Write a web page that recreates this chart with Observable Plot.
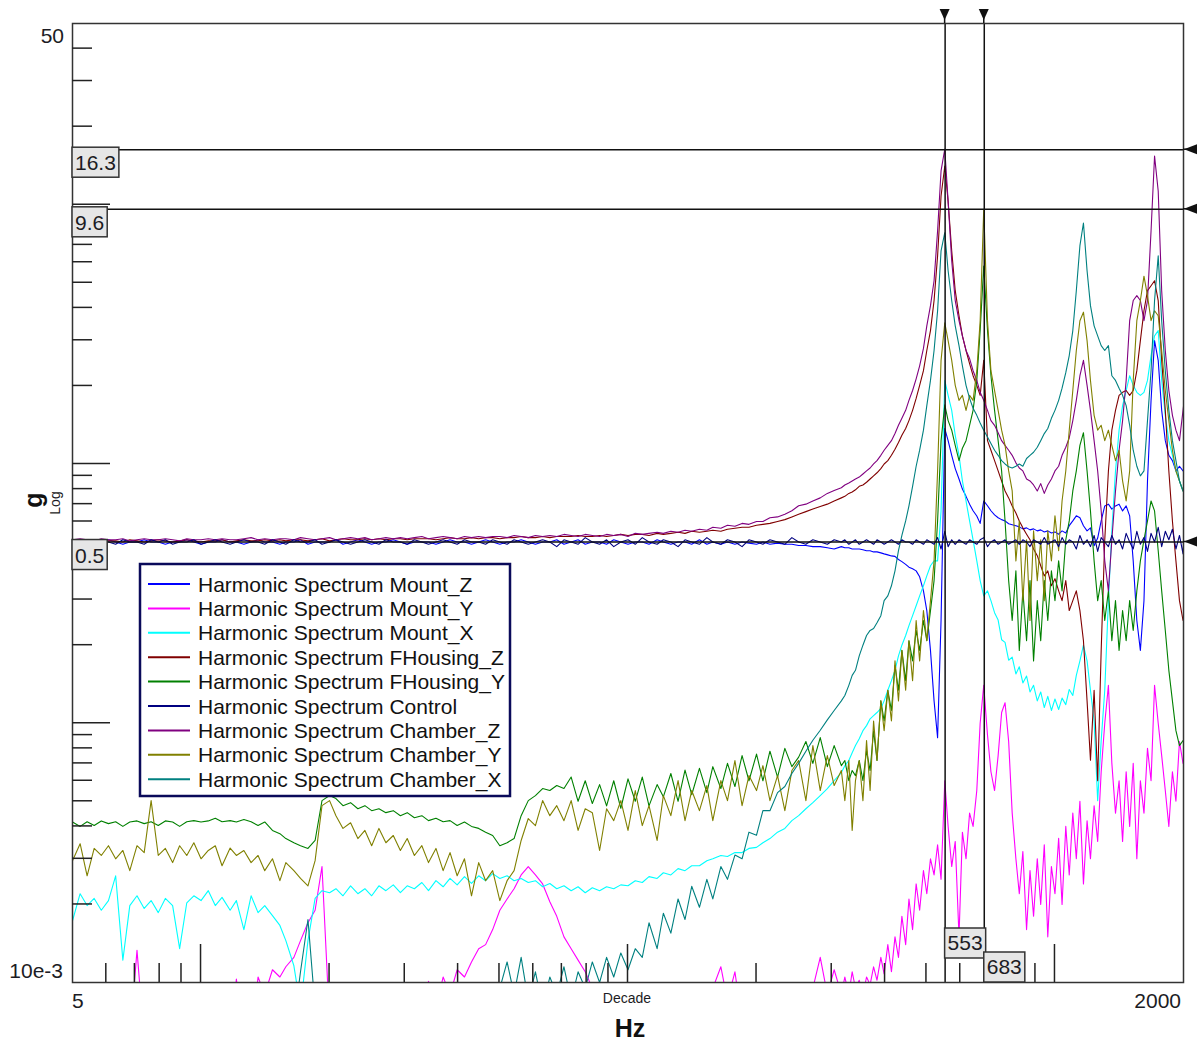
<!DOCTYPE html>
<html><head><meta charset="utf-8">
<script src="https://cdn.jsdelivr.net/npm/d3@7"></script>
<script src="https://cdn.jsdelivr.net/npm/@observablehq/plot@0.6"></script>
<style>html,body{margin:0;padding:0;background:#fff;} #chart{width:1201px;height:1041px;}</style>
</head><body><div id="chart"></div>
<script>
// ---------- frequency grid (Hz) ----------
const hzLow = [
5.0,5.21,5.41,5.62,5.84,6.07,6.31,6.56,6.81,7.08,
7.36,7.64,7.94,8.25,8.58,8.91,9.26,9.62,10,10.4,
10.8,11.2,11.7,12.1,12.6,13.1,13.6,14.1,14.7,15.3,
15.8,16.5,17.1,17.8,18.5,19.2,20,20.7,21.5,22.4,
23.3,24.2,25.1,26.1,27.1,28.2,29.3,30.4,31.6,32.9,
34.1,35.5,36.9,38.3,39.8,41.4,43,44.7,46.4,48.2,
50.1,52.1,54.1,56.2,58.4,60.7,63.1,65.6,68.1,70.8,
73.6,76.4,79.4,82.5,85.8,89.1,92.6,96.2,100,104,
108,112,117,121,126,131,136,141,147,153,
158,165,171,178,185,192,200,207,215,224,
233,242,251,261,271,282,293,304];
const hzHigh = [
316,322,329,335,341,348,355,362,369,376,
383,391,398,406,414,422,430,438,447,455,
464,473,482,492,501,511,521,531,541,552,
562,573,584,596,607,619,631,643,656,668,
681,695,708,722,736,750,764,779,794,810,
825,841,858,874,891,909,926,944,962,981,
1000,1020,1039,1060,1080,1101,1122,1144,1166,1189,
1211,1235,1259,1283,1308,1334,1359,1386,1413,1440,
1468,1496,1525,1555,1585,1616,1647,1679,1711,1745,
1778,1813,1848,1884,1920,1957,1995,2000];

// ---------- series values (g), on hzLow then hzHigh ----------
const mountZ = [
0.50,0.50,0.49,0.50,0.50,0.51,0.50,0.49,0.50,0.50,
0.51,0.50,0.50,0.49,0.50,0.50,0.51,0.50,0.49,0.50,
0.50,0.51,0.50,0.50,0.49,0.50,0.51,0.50,0.50,0.49,
0.50,0.50,0.51,0.49,0.50,0.50,0.50,0.51,0.49,0.50,
0.51,0.50,0.49,0.50,0.50,0.51,0.50,0.49,0.50,0.50,
0.50,0.49,0.50,0.51,0.50,0.50,0.49,0.50,0.51,0.50,
0.49,0.50,0.50,0.51,0.50,0.49,0.50,0.50,0.51,0.49,
0.50,0.51,0.49,0.50,0.50,0.49,0.51,0.50,0.49,0.50,
0.50,0.49,0.51,0.50,0.49,0.50,0.50,0.49,0.51,0.49,
0.50,0.49,0.50,0.49,0.50,0.495,0.49,0.50,0.49,0.495,
0.49,0.49,0.485,0.485,0.48,0.48,0.475,0.47,
// high
0.48,0.475,0.475,0.47,0.47,0.47,0.467,0.463,0.463,0.458,
0.458,0.454,0.45,0.446,0.442,0.44,0.428,0.42,0.41,0.40,
0.394,0.387,0.367,0.324,0.272,0.191,0.122,0.088,0.249,1.37,
1.23,1.08,0.96,0.875,0.80,0.75,0.70,0.66,0.63,0.59,
0.72,0.69,0.66,0.636,0.62,0.61,0.603,0.588,0.583,0.578,
0.572,0.562,0.567,0.557,0.562,0.552,0.557,0.547,0.552,0.542,
0.547,0.536,0.552,0.542,0.578,0.603,0.631,0.62,0.578,0.552,
0.567,0.484,0.518,0.603,0.689,0.70,0.67,0.689,0.70,0.659,
0.689,0.631,0.423,0.249,0.191,0.297,0.86,1.76,2.99,2.51,
1.61,1.23,1.08,1.03,0.94,0.98,0.94,0.94];

const mountY = [
0.006,0.006,0.006,0.006,0.006,0.006,0.006,0.006,0.006,0.0133,
0.006,0.006,0.006,0.006,0.006,0.006,0.006,0.006,0.006,0.006,
0.006,0.006,0.006,0.0103,0.006,0.006,0.0105,0.009,0.0112,0.0105,
0.0115,0.0125,0.0145,0.017,0.019,0.028,0.007,0.006,0.006,0.006,
0.006,0.006,0.006,0.006,0.006,0.006,0.006,0.006,0.006,0.006,
0.0101,0.008,0.0105,0.009,0.0112,0.0105,0.012,0.0135,0.014,0.016,
0.019,0.021,0.023,0.026,0.028,0.026,0.024,0.0205,0.018,0.015,
0.0135,0.0122,0.011,0.0095,0.007,0.006,0.006,0.006,0.006,0.006,
0.006,0.006,0.006,0.006,0.006,0.006,0.006,0.006,0.006,0.006,
0.0095,0.0115,0.0085,0.011,0.007,0.006,0.006,0.006,0.006,0.006,
0.006,0.006,0.006,0.006,0.0095,0.0125,0.009,0.0112,
// high
0.009,0.0105,0.009,0.011,0.0095,0.0102,0.009,0.0105,0.0098,0.0115,
0.0102,0.0125,0.0108,0.014,0.011,0.015,0.0125,0.018,0.014,0.021,
0.016,0.024,0.019,0.027,0.022,0.030,0.026,0.034,0.025,0.060,
0.040,0.028,0.035,0.015,0.038,0.030,0.045,0.040,0.055,0.10,
0.14,0.090,0.065,0.055,0.075,0.11,0.12,0.085,0.045,0.030,
0.022,0.032,0.016,0.027,0.018,0.030,0.020,0.034,0.015,0.028,
0.022,0.036,0.020,0.040,0.026,0.045,0.030,0.050,0.024,0.042,
0.030,0.048,0.035,0.065,0.10,0.14,0.07,0.045,0.060,0.035,
0.065,0.040,0.070,0.030,0.060,0.045,0.080,0.060,0.14,0.10,
0.075,0.055,0.040,0.065,0.050,0.085,0.070,0.070];

const mountX = [
0.0173,0.022,0.0198,0.0211,0.019,0.0207,0.0258,0.0122,0.0198,0.0216,
0.0193,0.0207,0.0186,0.0211,0.0198,0.0135,0.0203,0.0216,0.0207,0.0226,
0.0198,0.0213,0.019,0.0207,0.016,0.0216,0.0186,0.0198,0.0181,0.0166,
0.0145,0.0116,0.008,0.0145,0.0211,0.0226,0.0222,0.023,0.0216,0.0236,
0.022,0.023,0.0216,0.0236,0.0226,0.0238,0.0222,0.0236,0.023,0.0243,
0.0226,0.0247,0.0234,0.0252,0.0238,0.0256,0.0241,0.0258,0.0247,0.0263,
0.0252,0.0258,0.0247,0.0252,0.0243,0.0247,0.0234,0.0241,0.023,0.0236,
0.0226,0.0234,0.0222,0.0232,0.0226,0.0234,0.023,0.0238,0.0236,0.0247,
0.0243,0.0256,0.0252,0.0265,0.026,0.0275,0.027,0.0282,0.0282,0.0295,
0.030,0.0309,0.0306,0.0317,0.0317,0.0329,0.0332,0.0346,0.0359,0.038,
0.0393,0.0421,0.044,0.0468,0.0494,0.0526,0.056,0.0601,
// high
0.0645,0.0686,0.0718,0.077,0.082,0.0872,0.0936,0.0979,0.104,0.107,
0.11,0.114,0.122,0.134,0.146,0.16,0.182,0.20,0.218,0.238,
0.26,0.284,0.31,0.339,0.37,0.405,0.423,0.423,0.659,2.10,
1.84,1.61,1.29,1.08,0.86,0.72,0.603,0.51,0.423,0.355,
0.31,0.324,0.297,0.267,0.25,0.21,0.205,0.175,0.18,0.155,
0.165,0.143,0.152,0.132,0.14,0.122,0.132,0.115,0.127,0.112,
0.124,0.113,0.125,0.118,0.135,0.128,0.153,0.174,0.20,0.174,
0.134,0.102,0.0503,0.0857,0.134,0.297,0.552,0.94,1.35,1.68,
1.92,2.19,2.01,1.89,1.84,1.89,2.10,2.62,3.12,3.27,
2.10,1.54,1.23,1.08,0.94,0.86,0.787,0.787];

const fhousingZ = [
0.505,0.50,0.505,0.51,0.50,0.505,0.505,0.50,0.51,0.505,
0.50,0.505,0.51,0.505,0.50,0.505,0.51,0.505,0.50,0.505,
0.505,0.51,0.50,0.505,0.51,0.505,0.505,0.51,0.505,0.51,
0.505,0.51,0.51,0.505,0.51,0.515,0.505,0.51,0.515,0.51,
0.51,0.515,0.51,0.515,0.51,0.515,0.515,0.51,0.515,0.515,
0.515,0.51,0.515,0.52,0.515,0.515,0.52,0.515,0.52,0.52,
0.515,0.52,0.52,0.525,0.52,0.52,0.525,0.52,0.525,0.525,
0.525,0.53,0.525,0.525,0.53,0.525,0.53,0.535,0.53,0.535,
0.535,0.53,0.54,0.535,0.54,0.545,0.54,0.55,0.545,0.55,
0.555,0.55,0.56,0.565,0.57,0.57,0.58,0.585,0.59,0.60,
0.61,0.625,0.64,0.655,0.67,0.685,0.70,0.72,
// high
0.74,0.75,0.77,0.78,0.795,0.82,0.83,0.85,0.875,0.90,
0.925,0.96,1.0,1.03,1.08,1.14,1.21,1.29,1.37,1.47,
1.61,1.79,2.01,2.29,2.74,3.27,4.27,6.35,10.8,14.1,
10.3,6.64,4.66,3.73,3.12,2.74,2.44,2.19,2.01,1.84,
2.51,1.23,1.13,1.03,0.94,0.86,0.787,0.74,0.689,0.647,
0.603,0.567,0.536,0.51,0.47,0.443,0.405,0.37,0.387,0.339,
0.361,0.324,0.297,0.355,0.272,0.297,0.324,0.272,0.208,0.122,
0.072,0.134,0.060,0.191,0.51,0.94,1.35,1.61,1.84,1.89,
1.92,1.84,1.92,2.29,2.99,3.90,4.66,4.87,5.09,4.27,
2.51,1.61,0.94,0.603,0.423,0.297,0.249,0.249];

const fhousingY = [
0.0416,0.040,0.0417,0.0403,0.042,0.041,0.0417,0.040,0.0416,0.042,
0.041,0.0417,0.0403,0.042,0.0416,0.040,0.0417,0.0421,0.0416,0.042,
0.043,0.0417,0.0421,0.0416,0.0425,0.0417,0.0403,0.0416,0.0386,0.0375,
0.0359,0.0346,0.0337,0.0329,0.0353,0.0503,0.0526,0.0512,0.0481,0.0494,
0.0468,0.0481,0.046,0.0468,0.0452,0.046,0.044,0.0452,0.0432,0.044,
0.0421,0.043,0.0417,0.0421,0.0403,0.0416,0.040,0.0393,0.038,0.0369,
0.0337,0.0346,0.0359,0.044,0.0503,0.0526,0.056,0.055,0.0575,0.056,
0.062,0.050,0.060,0.049,0.058,0.048,0.060,0.047,0.061,0.050,
0.062,0.048,0.058,0.052,0.064,0.050,0.066,0.053,0.067,0.054,
0.068,0.056,0.070,0.057,0.075,0.060,0.076,0.060,0.078,0.062,
0.080,0.068,0.074,0.085,0.070,0.088,0.068,0.082,
// high
0.0686,0.0718,0.0601,0.0657,0.0628,0.0718,0.0601,0.0784,0.0657,0.0936,
0.0718,0.122,0.102,0.134,0.112,0.167,0.134,0.191,0.146,0.208,
0.174,0.228,0.191,0.249,0.208,0.272,0.355,0.603,1.23,1.69,
1.47,1.35,1.18,1.03,1.15,1.23,1.41,1.61,2.10,3.27,
5.8,3.27,2.19,1.61,1.23,0.94,0.603,0.355,0.249,0.387,
0.191,0.324,0.208,0.355,0.174,0.297,0.208,0.355,0.249,0.387,
0.297,0.423,0.324,0.51,0.603,0.787,0.94,1.18,1.32,0.94,
0.659,0.423,0.297,0.355,0.249,0.324,0.208,0.297,0.191,0.272,
0.208,0.297,0.228,0.324,0.423,0.51,0.603,0.72,0.659,0.463,
0.324,0.228,0.16,0.122,0.0936,0.082,0.0857,0.0857];

const control = [
0.50,0.51,0.49,0.50,0.51,0.50,0.49,0.51,0.50,0.50,
0.49,0.51,0.50,0.51,0.49,0.50,0.50,0.51,0.49,0.50,
0.51,0.50,0.49,0.50,0.51,0.50,0.50,0.49,0.51,0.50,
0.49,0.51,0.50,0.50,0.51,0.49,0.50,0.51,0.50,0.49,
0.50,0.51,0.50,0.49,0.51,0.50,0.50,0.49,0.51,0.50,
0.49,0.50,0.51,0.50,0.49,0.51,0.50,0.50,0.49,0.51,
0.50,0.49,0.51,0.50,0.49,0.50,0.51,0.50,0.48,0.51,
0.50,0.49,0.52,0.50,0.49,0.51,0.48,0.50,0.51,0.49,
0.52,0.50,0.49,0.51,0.50,0.48,0.51,0.50,0.49,0.52,
0.50,0.49,0.51,0.50,0.48,0.51,0.50,0.49,0.51,0.50,
0.49,0.52,0.50,0.49,0.51,0.50,0.49,0.51,
// high
0.50,0.51,0.49,0.50,0.51,0.49,0.50,0.51,0.50,0.49,
0.51,0.50,0.49,0.50,0.51,0.50,0.49,0.51,0.50,0.50,
0.49,0.51,0.50,0.49,0.51,0.50,0.49,0.52,0.47,0.55,
0.48,0.51,0.49,0.51,0.50,0.49,0.51,0.50,0.49,0.51,
0.52,0.48,0.50,0.51,0.49,0.50,0.51,0.49,0.50,0.51,
0.49,0.51,0.50,0.48,0.51,0.50,0.49,0.52,0.49,0.50,
0.51,0.48,0.52,0.49,0.51,0.50,0.47,0.53,0.49,0.51,
0.48,0.53,0.46,0.52,0.50,0.48,0.53,0.49,0.51,0.47,
0.54,0.50,0.47,0.55,0.49,0.52,0.46,0.54,0.50,0.57,
0.48,0.55,0.51,0.56,0.47,0.53,0.45,0.50];

const chamberZ = [
0.51,0.515,0.51,0.505,0.515,0.51,0.51,0.515,0.505,0.51,
0.515,0.51,0.51,0.515,0.51,0.505,0.515,0.51,0.51,0.515,
0.51,0.515,0.51,0.51,0.515,0.52,0.51,0.515,0.51,0.515,
0.515,0.51,0.52,0.515,0.51,0.515,0.52,0.51,0.515,0.52,
0.515,0.52,0.51,0.515,0.52,0.515,0.52,0.515,0.52,0.525,
0.515,0.52,0.525,0.52,0.515,0.525,0.52,0.525,0.52,0.525,
0.525,0.52,0.53,0.525,0.52,0.53,0.525,0.53,0.525,0.535,
0.53,0.525,0.535,0.53,0.525,0.535,0.53,0.535,0.525,0.54,
0.535,0.54,0.545,0.54,0.55,0.545,0.555,0.55,0.56,0.555,
0.57,0.565,0.58,0.575,0.59,0.585,0.60,0.60,0.62,0.625,
0.64,0.66,0.69,0.70,0.72,0.74,0.77,0.79,
// high
0.81,0.83,0.845,0.86,0.875,0.89,0.915,0.94,0.965,1.0,
1.03,1.08,1.13,1.18,1.23,1.31,1.41,1.50,1.61,1.76,
1.92,2.13,2.39,2.79,3.41,4.08,5.09,7.93,13.5,16.4,
10.3,6.08,4.27,3.57,3.12,2.74,2.55,2.29,2.10,1.89,
1.76,1.61,1.47,1.41,1.32,1.23,1.18,1.13,1.08,1.01,
0.965,0.94,0.875,0.86,0.83,0.787,0.84,0.77,0.83,0.875,
0.94,0.98,1.08,1.16,1.26,1.47,1.76,2.19,2.51,2.01,
1.61,1.23,0.94,0.66,0.423,0.324,0.51,0.787,1.13,1.47,
2.10,3.57,4.27,4.46,4.27,3.57,4.27,7.93,15.4,11.3,
4.66,2.74,1.92,1.54,1.35,1.23,1.61,1.67];

const chamberY = [
0.0295,0.0343,0.0258,0.0329,0.0309,0.0337,0.030,0.0323,0.027,0.0337,
0.0317,0.0503,0.0309,0.0329,0.029,0.0337,0.0309,0.0346,0.030,0.0323,
0.0337,0.0282,0.033,0.0309,0.0323,0.029,0.0309,0.027,0.030,0.0247,
0.029,0.027,0.0252,0.0236,0.0295,0.0481,0.0503,0.044,0.0393,0.0413,
0.0359,0.0386,0.0337,0.0393,0.0346,0.0369,0.0323,0.0359,0.0309,0.0337,
0.029,0.0329,0.027,0.0317,0.0258,0.030,0.0216,0.029,0.0247,0.027,
0.0207,0.0247,0.027,0.0353,0.0429,0.0403,0.0503,0.044,0.0481,0.0421,
0.0503,0.0386,0.0468,0.0452,0.0323,0.0468,0.0421,0.0503,0.0386,0.055,
0.0403,0.0481,0.0353,0.0526,0.044,0.0601,0.0421,0.055,0.046,0.0575,
0.0421,0.0601,0.0503,0.0718,0.0481,0.0628,0.055,0.0686,0.0503,0.0628,
0.046,0.0657,0.0718,0.0503,0.082,0.055,0.075,0.0575,
// high
0.0657,0.0503,0.0718,0.0386,0.0601,0.0718,0.0503,0.0857,0.055,0.102,
0.0718,0.122,0.0936,0.134,0.102,0.174,0.122,0.191,0.134,0.208,
0.146,0.249,0.174,0.272,0.208,0.297,0.423,0.94,2.51,3.5,
2.99,2.51,2.01,1.76,1.84,1.61,1.84,1.76,2.29,3.57,
9.6,3.57,2.29,1.92,1.61,1.35,1.18,0.94,0.787,0.423,
0.603,0.297,0.51,0.249,0.552,0.355,0.51,0.297,0.552,0.423,
0.631,0.463,0.72,0.94,1.35,1.92,2.74,3.57,3.85,2.99,
2.10,1.54,1.35,1.41,1.23,1.35,1.18,1.03,1.13,0.86,
0.72,0.94,2.10,3.57,4.27,5.3,4.46,3.57,3.90,3.73,
2.74,1.92,1.47,1.13,0.94,0.86,0.787,0.787];

const chamberX = [
0.006,0.006,0.006,0.006,0.006,0.006,0.006,0.006,0.006,0.006,
0.006,0.006,0.006,0.006,0.006,0.006,0.006,0.006,0.006,0.006,
0.006,0.006,0.006,0.006,0.006,0.006,0.006,0.006,0.006,0.006,
0.006,0.007,0.011,0.0175,0.008,0.006,0.006,0.006,0.006,0.006,
0.006,0.006,0.006,0.006,0.006,0.006,0.006,0.006,0.006,0.006,
0.006,0.006,0.006,0.006,0.006,0.006,0.006,0.006,0.007,0.008,
0.0095,0.012,0.009,0.0125,0.0085,0.011,0.008,0.0105,0.009,0.0115,
0.0085,0.011,0.0095,0.012,0.010,0.0125,0.0105,0.013,0.0112,0.0135,
0.0125,0.017,0.0135,0.0185,0.0155,0.021,0.0175,0.0235,0.0195,0.025,
0.021,0.028,0.025,0.031,0.030,0.038,0.037,0.046,0.046,0.054,
0.057,0.064,0.070,0.078,0.086,0.094,0.103,0.112,
// high
0.122,0.128,0.14,0.153,0.16,0.182,0.20,0.218,0.228,0.232,
0.244,0.26,0.297,0.31,0.339,0.387,0.463,0.53,0.603,0.689,
0.82,0.98,1.13,1.35,1.68,2.10,2.74,3.90,6.64,7.8,
5.56,4.27,3.41,2.86,2.39,2.01,1.79,1.64,1.54,1.44,
1.35,1.27,1.20,1.13,1.08,1.03,1.00,0.975,0.965,0.98,
1.00,0.98,1.05,1.08,1.11,1.16,1.23,1.31,1.37,1.50,
1.61,1.76,1.96,2.25,2.62,3.27,4.66,6.95,8.5,5.56,
4.08,3.41,3.12,2.86,2.74,2.86,2.19,2.10,1.96,1.84,
1.68,1.41,1.13,0.98,0.90,0.94,1.47,2.29,4.27,6.35,
3.57,2.29,1.61,1.23,1.03,0.86,0.787,0.787];

// ---------- names, colours, cursors, ticks ----------
const seriesNames = ["Harmonic Spectrum Mount_Z","Harmonic Spectrum Mount_Y","Harmonic Spectrum Mount_X",
  "Harmonic Spectrum FHousing_Z","Harmonic Spectrum FHousing_Y","Harmonic Spectrum Control",
  "Harmonic Spectrum Chamber_Z","Harmonic Spectrum Chamber_Y","Harmonic Spectrum Chamber_X"];
const seriesColors = ["#0000ff","#ff00ff","#00ffff","#800000","#008000","#000080","#800080","#808000","#008080"];
const seriesValues = [mountZ, mountY, mountX, fhousingZ, fhousingY, control, chamberZ, chamberY, chamberX];
const drawOrder = [0,1,2,3,4,6,7,8,5];

const cursorHz = [553, 683];
const cursorG = [16.3, 9.6, 0.5];
const cursorGLabels = ["16.3", "9.6", "0.5"];
const cursorHzLabels = ["553", "683"];

const yMajorTicks = [0.1, 1, 10];
const yMinorTicks = [0.02,0.03,0.04,0.05,0.06,0.07,0.08,0.09,0.2,0.3,0.4,0.5,0.6,0.7,0.8,0.9,2,3,4,5,6,7,8,9,20,30,40];
const xMajorTicks = [10, 100, 1000];
const xMinorTicks = [6,7,8,9,20,30,40,50,60,70,80,90,200,300,400,500,600,700,800,900];

// ---------- build ----------
const hz = [...hzLow, ...hzHigh];
const warnings = [];
if (hzLow.length !== 108) warnings.push("hzLow " + hzLow.length);
if (hzHigh.length !== 98) warnings.push("hzHigh " + hzHigh.length);
seriesValues.forEach((v, i) => { if (v.length !== hz.length) warnings.push(seriesNames[i] + " " + v.length); });

const FONT = "'Liberation Sans', Arial, Helvetica, sans-serif";
const lineMarks = drawOrder.map(si => {
  const vals = seriesValues[si];
  const n = Math.min(vals.length, hz.length);
  const rows = [];
  for (let i = 0; i < n; i++) rows.push({hz: hz[i], g: vals[i]});
  return Plot.line(rows, {x: "hz", y: "g", stroke: seriesColors[si], strokeWidth: 1.1, clip: true});
});

const plot = Plot.plot({
  width: 1201, height: 1041,
  marginLeft: 72, marginRight: 18, marginTop: 23, marginBottom: 59,
  style: {fontFamily: FONT, background: "#fff", overflow: "visible"},
  x: {type: "log", domain: [5, 2000], axis: null},
  y: {type: "log", domain: [0.01, 50], axis: null},
  marks: [
    ...lineMarks,
    Plot.ruleX(cursorHz, {stroke: "#111", strokeWidth: 1.5}),
    Plot.ruleY(cursorG, {stroke: "#111", strokeWidth: 1.5}),
    Plot.frame({stroke: "#333", strokeWidth: 1.5})
  ]
});
document.getElementById("chart").append(plot);

const svg = d3.select(plot);
const sx = plot.scale("x"), sy = plot.scale("y");
const X = v => sx.apply(v), Y = v => sy.apply(v);
const x0 = X(5), x1 = X(2000), y0 = Y(0.01), y1 = Y(50);

// ticks
const tg = svg.append("g").attr("stroke", "#222").attr("stroke-width", 1.5);
yMinorTicks.forEach(v => tg.append("line").attr("x1", x0).attr("x2", x0 + 20).attr("y1", Y(v)).attr("y2", Y(v)));
yMajorTicks.forEach(v => tg.append("line").attr("x1", x0).attr("x2", x0 + 38).attr("y1", Y(v)).attr("y2", Y(v)));
xMinorTicks.forEach(v => tg.append("line").attr("x1", X(v)).attr("x2", X(v)).attr("y1", y0).attr("y2", y0 - 19));
xMajorTicks.forEach(v => tg.append("line").attr("x1", X(v)).attr("x2", X(v)).attr("y1", y0).attr("y2", y0 - 38));

// text helper (explicit anchor: Plot's root svg defaults to middle)
const txt = (parent, x, y, s, opts = {}) => parent.append("text").attr("x", x).attr("y", y).text(s)
  .attr("font-family", FONT).attr("font-size", opts.size || 21).attr("fill", opts.fill || "#1c1c24")
  .attr("text-anchor", opts.anchor || "start").attr("font-weight", opts.weight || "normal");
txt(svg, x0 - 8, y1 + 20, "50", {anchor: "end"});
txt(svg, x0 - 9, y0 - 4, "10e-3", {anchor: "end"});
txt(svg, x0, y0 + 26, "5");
txt(svg, x1 - 2, y0 + 26, "2000", {anchor: "end"});
txt(svg, 627, y0 + 21, "Decade", {anchor: "middle", size: 14});
txt(svg, 630, y0 + 55, "Hz", {anchor: "middle", size: 25, weight: "bold", fill: "#111"});
txt(svg, 0, 0, "g", {anchor: "middle", size: 25, weight: "bold", fill: "#111"})
  .attr("transform", "translate(42,500) rotate(-90)");
txt(svg, 0, 0, "Log", {anchor: "middle", size: 14})
  .attr("transform", "translate(60,503) rotate(-90)");

// legend
const lg = svg.append("g");
lg.append("rect").attr("x", 140).attr("y", 564).attr("width", 370).attr("height", 232)
  .attr("fill", "#fff").attr("stroke", "#0a0a5a").attr("stroke-width", 2.5);
seriesNames.forEach((name, i) => {
  const cy = 584 + i * 24.4;
  lg.append("line").attr("x1", 148).attr("x2", 190).attr("y1", cy).attr("y2", cy)
    .attr("stroke", seriesColors[i]).attr("stroke-width", 2);
  txt(lg, 198, cy + 7.5, name, {fill: "#111"});
});

// cursor extensions, triangles and labels
const cg = svg.append("g");
cursorHz.forEach((v, i) => {
  const cx = X(v);
  cg.append("line").attr("x1", cx).attr("x2", cx).attr("y1", 9).attr("y2", y1).attr("stroke", "#111").attr("stroke-width", 1.5);
  cg.append("path").attr("d", `M${cx - 5},9L${cx + 5},9L${cx},20Z`).attr("fill", "#111");
  const bottom = i === 0 ? y0 - 24 : y0;
  const r = cg.append("rect").attr("x", cx).attr("y", bottom - 30).attr("height", 30)
    .attr("fill", "#e6e6e6").attr("stroke", "#333").attr("stroke-width", 1.5);
  const t = txt(cg, cx + 3, bottom - 8, cursorHzLabels[i]);
  r.attr("width", t.node().getComputedTextLength() + 6);
});
cursorG.forEach((v, i) => {
  const cy = Y(v);
  cg.append("line").attr("x1", x1).attr("x2", 1197).attr("y1", cy).attr("y2", cy).attr("stroke", "#111").attr("stroke-width", 1.5);
  cg.append("path").attr("d", `M1197,${cy - 5}L1197,${cy + 5}L1184,${cy}Z`).attr("fill", "#111");
  const r = cg.append("rect").attr("x", x0).attr("y", cy - 2).attr("height", 30)
    .attr("fill", "#e6e6e6").attr("stroke", "#333").attr("stroke-width", 1.5);
  const t = txt(cg, x0 + 3, cy + 21, cursorGLabels[i]);
  r.attr("width", t.node().getComputedTextLength() + 6);
});

if (warnings.length) {
  txt(svg, 300, 100, "LEN: " + warnings.join("; "), {fill: "red", size: 20});
}
</script></body></html>
